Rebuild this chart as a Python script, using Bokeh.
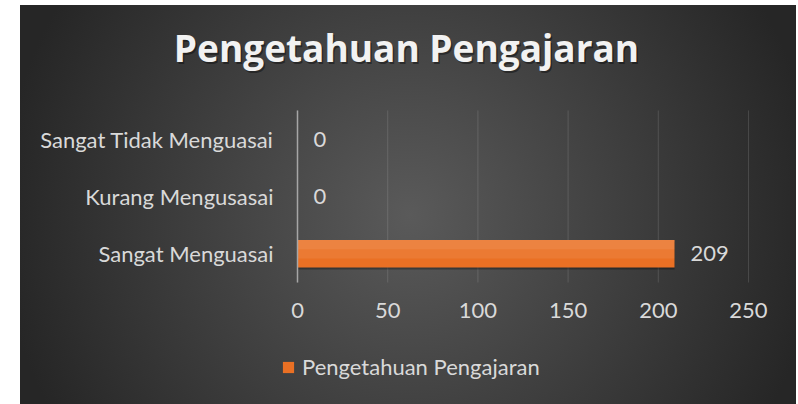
from bokeh.plotting import figure
from bokeh.models import (ColumnDataSource, Range1d, LabelSet, Label, Legend,
                          LegendItem, FixedTicker)
from bokeh.transform import dodge
from bokeh.core.properties import value
from bokeh.embed import file_html
from bokeh.resources import INLINE

# ---- data ----
categories = ["Sangat Menguasai", "Kurang Mengusasai", "Sangat Tidak Menguasai"]
values = [209, 0, 0]
series_name = "Pengetahuan Pengajaran"
chart_title = "Pengetahuan Pengajaran"
x_ticks = [0, 50, 100, 150, 200, 250]

FONT = "Lato"
TXT = "#D9D9D9"

ypos = list(range(len(categories)))
y_lo, y_hi = -0.5, len(categories) - 0.5

src = ColumnDataSource(dict(y=ypos, val=values, lab=[str(v) for v in values]))
grid_src = ColumnDataSource(dict(t=x_ticks, y0=[y_lo] * len(x_ticks), y1=[y_hi] * len(x_ticks)))

p = figure(width=776, height=399, frame_width=776, frame_height=399,
           x_range=Range1d(-153.59, 276.62), y_range=Range1d(-2.628, 4.331),
           output_backend="svg", toolbar_location=None,
           margin=(5, 2, 0, 20),
           min_border_left=0, min_border_right=0,
           min_border_top=0, min_border_bottom=0,
           styles={"background": "radial-gradient(circle 410px at 390px 210px, "
                                 "#5A5A5A 0%, #262626 100%)"})
p.border_fill_alpha = 0
p.background_fill_alpha = 0
p.outline_line_color = None
p.xgrid.grid_line_color = None
p.ygrid.grid_line_color = None

# vertical gridlines at the value ticks, spanning the category area
p.segment(x0="t", y0="y0", x1="t", y1="y1", source=grid_src,
          line_color="white", line_alpha=0.13, line_width=1)

# bar shadow + bar with a light top
p.hbar(y=dodge("y", -0.035), left=0, right="val", height=0.48,
       source=src, fill_color="black", fill_alpha=0.3, line_color=None)
bar = p.hbar(y="y", left=0, right="val", height=0.48, source=src,
             fill_color="#EA7024", line_color=None)
p.hbar(y=dodge("y", 0.08), left=0, right="val", height=0.32,
       source=src, fill_color="white", fill_alpha=0.07, line_color=None)
p.hbar(y=dodge("y", 0.16), left=0, right="val", height=0.16,
       source=src, fill_color="white", fill_alpha=0.07, line_color=None)

# data labels
p.add_layout(LabelSet(x="val", y="y", text="lab", source=src, x_offset=16,
                      text_align="left", text_baseline="middle",
                      text_font=value(FONT), text_font_size="22px", text_color=TXT))

# value axis (drawn at the bottom of the category area)
p.xaxis.fixed_location = y_lo
p.xaxis.ticker = FixedTicker(ticks=x_ticks)
p.xaxis.axis_line_color = None
p.xaxis.major_tick_line_color = None
p.xaxis.minor_tick_line_color = None
p.xaxis.major_tick_out = 0
p.xaxis.major_tick_in = 0
p.xaxis.major_label_standoff = 21
p.xaxis.major_label_text_font = FONT
p.xaxis.major_label_text_font_size = "22px"
p.xaxis.major_label_text_color = TXT

# category axis (at value 0)
p.yaxis.fixed_location = 0
p.yaxis.bounds = (y_lo, y_hi)
p.yaxis.ticker = FixedTicker(ticks=ypos)
p.yaxis.major_label_overrides = {i: c for i, c in zip(ypos, categories)}
p.yaxis.axis_line_color = "#A6A6A6"
p.yaxis.axis_line_width = 1.5
p.yaxis.major_tick_line_color = None
p.yaxis.minor_tick_line_color = None
p.yaxis.major_tick_out = 0
p.yaxis.major_tick_in = 0
p.yaxis.major_label_standoff = 24
p.yaxis.major_label_text_font = FONT
p.yaxis.major_label_text_font_size = "22px"
p.yaxis.major_label_text_color = TXT

# title (with soft shadow), frame-relative screen position
for dx, dy, col, a in [(1.5, -2, "black", 0.4), (0, 0, "#F2F2F2", 1.0)]:
    p.add_layout(Label(x=386 + dx, y=357 + dy, x_units="screen", y_units="screen",
                       text=chart_title, text_align="center", text_baseline="alphabetic",
                       text_font="Open Sans", text_font_style="bold",
                       text_font_size="37px", text_color=col, text_alpha=a))

# legend
legend = Legend(items=[LegendItem(label=series_name, renderers=[bar])],
                location=(261, 24), orientation="horizontal",
                background_fill_alpha=0, border_line_color=None,
                padding=0, margin=0, glyph_width=14, glyph_height=14,
                label_standoff=7, label_text_font=FONT, label_text_font_size="22px",
                label_text_color=TXT)
p.add_layout(legend)

open("out.html", "w").write(file_html(p, INLINE))
